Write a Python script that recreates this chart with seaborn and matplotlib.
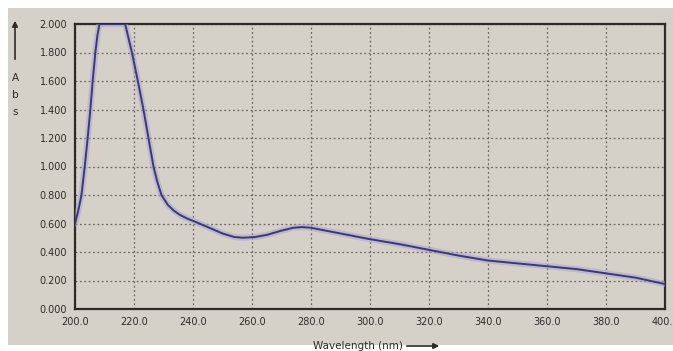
import matplotlib
matplotlib.use("Agg")
import matplotlib.pyplot as plt
from matplotlib.patches import Rectangle, FancyArrowPatch
import numpy as np
import pandas as pd
import seaborn as sns

# Absorbance spectrum (instrument saturates at 2.000)
wavelength = [200, 201, 202.2, 203.3, 204.3, 205.2, 206, 206.9, 207.6, 208.3,
              212, 217, 219.3, 221.3, 223.2, 224.9, 226.6, 227.8, 229.3, 231.5,
              233.5, 235.6, 238, 241, 245, 250, 254, 257, 261, 265, 270, 274,
              277, 280, 285, 290, 295, 300, 310, 320, 330, 340, 350, 360, 370,
              380, 390, 400]
absorbance = [0.60, 0.68, 0.80, 1.00, 1.20, 1.40, 1.60, 1.80, 1.92, 2.00,
              2.00, 2.00, 1.80, 1.60, 1.40, 1.20, 1.00, 0.90, 0.80, 0.73,
              0.69, 0.66, 0.635, 0.61, 0.575, 0.53, 0.505, 0.50, 0.505, 0.52,
              0.55, 0.57, 0.575, 0.57, 0.55, 0.53, 0.51, 0.49, 0.455, 0.415,
              0.375, 0.34, 0.32, 0.30, 0.28, 0.25, 0.22, 0.175]

x_ticks = [200, 220, 240, 260, 280, 300, 320, 340, 360, 380, 400]
y_ticks = [0.0, 0.2, 0.4, 0.6, 0.8, 1.0, 1.2, 1.4, 1.6, 1.8, 2.0]

bg = "#d5d1c8"
ink = "#2e2a28"
line_col = "#3b3872"

sns.set_style("white")
plt.rcParams["font.family"] = ["DejaVu Sans"]

df = pd.DataFrame({"Wavelength": wavelength, "Abs": absorbance})

fig = plt.figure(figsize=(6.73, 3.51), dpi=100, facecolor="white")
fig.patches.append(Rectangle((8 / 673, 6 / 351), 665 / 673, 337 / 351,
                             transform=fig.transFigure, facecolor=bg,
                             edgecolor="none", zorder=-10))

ax = fig.add_axes([75 / 673, 42 / 351, 590 / 673, 285 / 351])
ax.set_facecolor(bg)

# soft halo under the trace
sns.lineplot(data=df, x="Wavelength", y="Abs", ax=ax, color="#a79fd8",
             linewidth=4.5, alpha=0.5, zorder=3)
sns.lineplot(data=df, x="Wavelength", y="Abs", ax=ax, color=line_col,
             linewidth=1.4, zorder=4)

ax.set_xlim(200, 400)
ax.set_ylim(0, 2.0)
ax.set_xticks(x_ticks)
ax.set_yticks(y_ticks)
ax.set_xticklabels([f"{v:.1f}" for v in x_ticks], fontsize=7, color=ink)
ax.set_yticklabels([f"{v:.3f}" for v in y_ticks], fontsize=7, color=ink)
ax.tick_params(axis="both", direction="inout", length=5, width=1.2,
               color=ink, pad=3)
ax.grid(True, linestyle=(0, (1.5, 2)), color="#4a4540", linewidth=0.9, alpha=0.75)
for side in ["left", "bottom", "top", "right"]:
    ax.spines[side].set_color(ink)
    ax.spines[side].set_linewidth(1.6)
ax.set_xlabel("")
ax.set_ylabel("")

# vertical axis caption with arrow
fig.text(15 / 673, 1 - 95 / 351, "A\nb\ns", fontsize=7.5, color=ink,
         ha="center", va="center", linespacing=1.9)
fig.patches.append(FancyArrowPatch((15 / 673, 1 - 62 / 351), (15 / 673, 1 - 18 / 351),
                                   transform=fig.transFigure, arrowstyle="-|>",
                                   mutation_scale=8, color=ink, linewidth=1.2))

# horizontal axis caption with arrow
fig.text(358 / 673, 1 - 346 / 351, "Wavelength (nm)", fontsize=7.5, color=ink,
         ha="center", va="center")
fig.patches.append(FancyArrowPatch((404 / 673, 1 - 346 / 351), (442 / 673, 1 - 346 / 351),
                                   transform=fig.transFigure, arrowstyle="-|>",
                                   mutation_scale=8, color=ink, linewidth=1.2))

fig.savefig("out.png", dpi=100, facecolor="white")
